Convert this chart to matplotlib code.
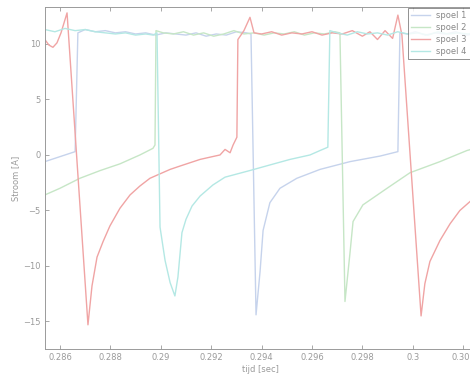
import matplotlib
matplotlib.use('Agg')
import matplotlib.pyplot as plt
import numpy as np

# spoel 1 (blauw)
t1 = [0.28540, 0.28580, 0.28620, 0.28660, 0.28671, 0.2870, 0.2874, 0.2878, 0.2882, 0.2886,
      0.2890, 0.2894, 0.2898, 0.2902, 0.2906, 0.2910, 0.2914, 0.2918, 0.2922, 0.2926,
      0.2930, 0.29340, 0.29358, 0.29378, 0.29394, 0.29406, 0.29433, 0.29473, 0.29540, 0.29632,
      0.29751, 0.29870, 0.29941, 0.29949, 0.2998, 0.3001, 0.3005, 0.3009, 0.3013, 0.3017,
      0.3021, 0.30247]
i1 = [-0.6, -0.3, 0.0, 0.3, 11.0, 11.3, 11.1, 11.2, 11.0, 11.1,
      10.9, 11.0, 10.8, 11.0, 10.9, 10.8, 11.0, 10.7, 10.9, 10.8,
      11.1, 11.0, 10.9, -14.4, -10.5, -6.8, -4.3, -3.0, -2.1, -1.3,
      -0.6, -0.1, 0.3, 11.0, 10.9, 11.1, 10.8, 11.0, 10.9, 11.1,
      10.8, 10.9]

# spoel 2 (groen)
t2 = [0.28540, 0.28600, 0.28679, 0.28760, 0.28838, 0.28917, 0.28969, 0.28977, 0.28981, 0.2901,
      0.2905, 0.2909, 0.2913, 0.2917, 0.2921, 0.2925, 0.2929, 0.2933, 0.2937, 0.2941,
      0.2945, 0.2949, 0.2953, 0.2957, 0.2961, 0.2965, 0.2969, 0.29711, 0.29731, 0.29751,
      0.29763, 0.29802, 0.29898, 0.29989, 0.30108, 0.30215, 0.30247]
i2 = [-3.6, -3.0, -2.1, -1.4, -0.8, 0.0, 0.6, 0.9, 11.2, 11.0,
      10.9, 11.1, 10.8, 11.0, 10.7, 10.9, 11.2, 10.9, 11.0, 10.8,
      11.0, 10.9, 11.1, 10.8, 11.0, 10.9, 11.1, 11.0, -13.2, -8.8,
      -6.0, -4.5, -3.0, -1.6, -0.6, 0.4, 0.6]

# spoel 3 (rood)
t3 = [0.28540, 0.28556, 0.28572, 0.28588, 0.28604, 0.28628, 0.28711, 0.28727, 0.28747, 0.28771,
      0.28798, 0.28838, 0.28878, 0.28917, 0.28957, 0.28997, 0.29037, 0.29076, 0.29116, 0.29156,
      0.29195, 0.29235, 0.29255, 0.29275, 0.29287, 0.29302, 0.29306, 0.29330, 0.29354, 0.29370,
      0.2940, 0.2944, 0.2948, 0.2952, 0.2956, 0.2960, 0.2964, 0.2968, 0.2972, 0.2976,
      0.2980, 0.2983, 0.2986, 0.2989, 0.2992, 0.29941, 0.29957, 0.30033, 0.30048, 0.30068,
      0.30108, 0.30148, 0.30187, 0.30247]
i3 = [10.4, 9.9, 9.7, 10.1, 11.0, 12.8, -15.3, -11.8, -9.2, -7.8,
      -6.4, -4.8, -3.6, -2.8, -2.1, -1.7, -1.3, -1.0, -0.7, -0.4,
      -0.2, 0.0, 0.5, 0.2, 0.9, 1.6, 10.4, 11.2, 12.4, 11.0,
      10.9, 11.1, 10.8, 11.0, 10.9, 11.1, 10.8, 11.0, 10.9, 11.2,
      10.7, 11.1, 10.4, 11.2, 10.5, 12.6, 10.8, -14.5, -11.6, -9.6,
      -7.7, -6.2, -5.0, -3.8]

# spoel 4 (cyaan)
t4 = [0.28540, 0.2858, 0.2862, 0.2866, 0.2870, 0.2874, 0.2878, 0.2882, 0.2886, 0.2890,
      0.2894, 0.2897, 0.28985, 0.28997, 0.29017, 0.29037, 0.29056, 0.29068, 0.29084, 0.29100,
      0.29124, 0.29156, 0.29207, 0.29255, 0.29354, 0.29433, 0.29513, 0.29592, 0.29632, 0.29663,
      0.29671, 0.2970, 0.2974, 0.2978, 0.2982, 0.2986, 0.2990, 0.2994, 0.2998, 0.3002,
      0.3006, 0.3010, 0.3014, 0.3018, 0.3022, 0.30247]
i4 = [11.3, 11.1, 11.4, 11.2, 11.3, 11.1, 11.0, 10.9, 11.0, 10.8,
      10.9, 10.8, 11.0, -6.5, -9.5, -11.5, -12.7, -11.0, -7.0, -5.8,
      -4.6, -3.7, -2.7, -2.0, -1.4, -0.9, -0.4, 0.0, 0.4, 0.7,
      11.2, 11.0, 10.8, 11.1, 10.9, 11.0, 10.8, 11.1, 10.9, 11.0,
      10.8, 11.1, 10.9, 11.0, 10.9, 11.0]

labels = ['spoel 1', 'spoel 2', 'spoel 3', 'spoel 4']
colors = ['#c6d3ec', '#c6e6c6', '#f0a4a4', '#b4e8e4']
xticks = [0.286, 0.288, 0.290, 0.292, 0.294, 0.296, 0.298, 0.300, 0.302]
yticks = [-15, -10, -5, 0, 5, 10]

grey = '#9a9a9a'
plt.rcParams['font.family'] = 'DejaVu Sans'

fig = plt.figure(figsize=(4.70, 3.75), dpi=100)
ax = fig.add_axes([45 / 470, 1 - 349 / 375, 430 / 470, 342 / 375])

series = [(t1, i1), (t2, i2), (t3, i3), (t4, i4)]
for (t, i), c, lab in zip(series, colors, labels):
    ax.plot(t, i, color=c, lw=1.0, label=lab)

ax.set_xlim(0.285405, 0.30247)
ax.set_ylim(-17.48, 13.33)
ax.set_xticks(xticks)
ax.set_xticklabels(['%g' % x for x in xticks])
ax.set_yticks(yticks)
ax.tick_params(direction='in', top=True, right=True, length=3, width=0.6,
               colors=grey, labelsize=6, pad=3)
for s in ax.spines.values():
    s.set_color(grey)
    s.set_linewidth(0.7)

ax.set_xlabel('tijd [sec]', fontsize=6, color=grey, labelpad=2)
ax.set_ylabel('Stroom [A]', fontsize=6, color=grey, labelpad=2)

leg = ax.legend(loc='upper left', bbox_to_anchor=((408 - 45) / 430, 1 - 1 / 342),
                borderaxespad=0, fontsize=6, handlelength=2.2, labelspacing=0.35,
                frameon=True, fancybox=False, borderpad=0.4)
leg.get_frame().set_edgecolor('#606060')
leg.get_frame().set_linewidth(0.6)
for txt in leg.get_texts():
    txt.set_color('#888888')

fig.savefig('out.png', dpi=100)
